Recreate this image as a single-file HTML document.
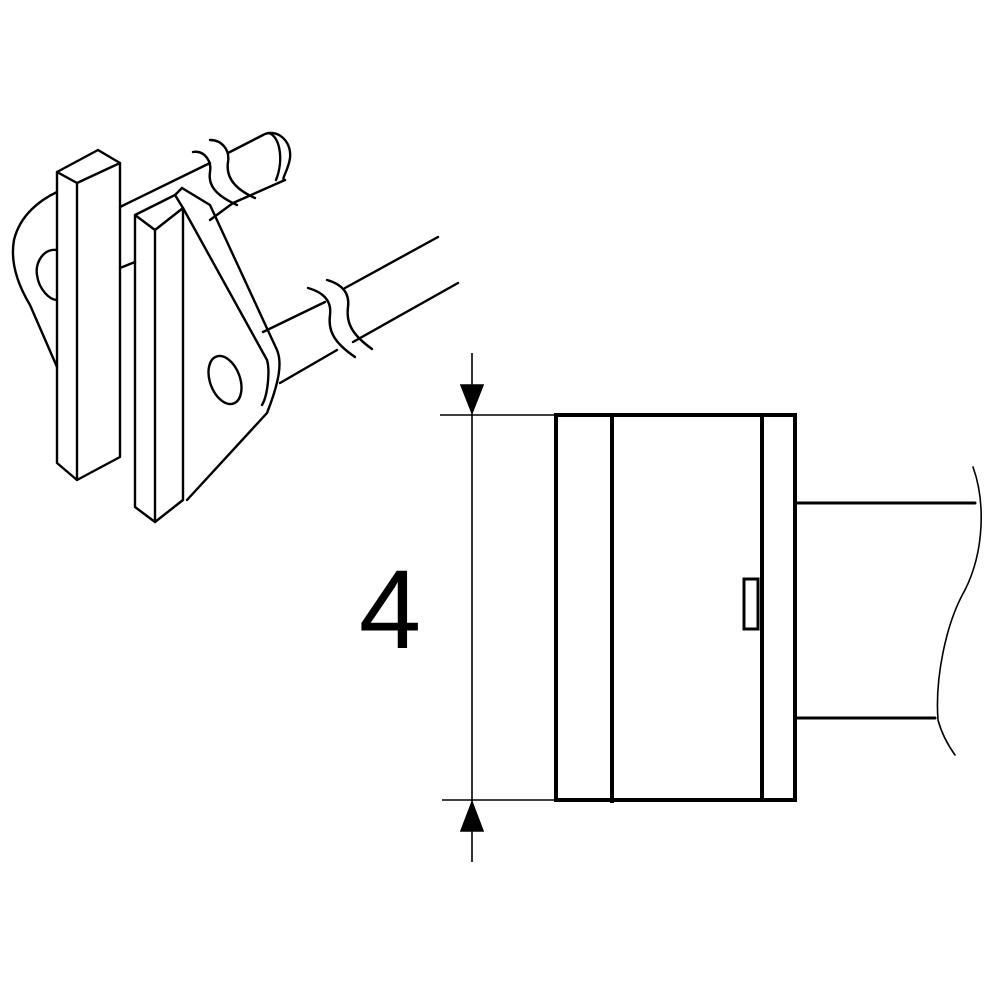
<!DOCTYPE html>
<html><head><meta charset="utf-8"><style>html,body{margin:0;padding:0;background:#fff}svg{display:block}</style></head><body>
<svg width="1000" height="1000" viewBox="0 0 1000 1000" xmlns="http://www.w3.org/2000/svg">
<g fill="none" stroke="#000" stroke-width="2.4" stroke-linejoin="round" stroke-linecap="round">
<!-- back rod -->
<path d="M120,207 L210,163"/>
<path d="M120,268 L135,262"/>
<path d="M193,152 C205,150 212,162 210,172 C208,185 215,195 237,205"/>
<path d="M210,140 C222,140 230,150 228,162 C226,175 232,188 255,198"/>
<path d="M228,153 L263,135"/>
<path d="M233,203 L285,180"/>
<path d="M210,220 L233,203"/>
<path d="M263,135 C276,128 292,140 290,158 C288,172 280,180 285,180"/>
<path d="M268,133 C280,135 284,160 276,180"/>
<!-- back plate -->
<path d="M57,192 C40,200 20,215 14,240 C10,262 18,285 30,305 L57,367"/>
<path d="M57,250 C44,248 35,262 37,275 C39,290 50,300 57,300"/>
<!-- front-left bar -->
<path d="M57,172 L98,150 L120,163 L77,183 Z"/>
<path d="M57,172 L57,463 L77,480 L120,457 L120,163"/>
<path d="M77,183 L77,480"/>
<!-- front plate -->
<path d="M182,188 L210,205 L277,350 C282,362 280,380 267,413 L187,500"/>
<path d="M183,208 L267,360 C270,370 268,395 262,405"/>
<!-- second bar -->
<path d="M135,215 L175,195 L183,208 L155,230 Z"/>
<path d="M175,195 L182,188"/>
<path d="M135,215 L135,507 L155,522 L183,500 L183,208"/>
<path d="M155,230 L155,522"/>
<ellipse cx="225" cy="380" rx="15" ry="25" transform="rotate(-20 225 380)"/>
<!-- front rod -->
<path d="M263,332 L325,302"/>
<path d="M345,288 L438,237"/>
<path d="M280,383 L337,350"/>
<path d="M353,342 L458,283"/>
<path d="M308,288 C322,292 332,300 330,315 C328,330 333,342 355,357"/>
<path d="M327,280 C341,284 350,292 348,307 C346,322 351,334 372,349"/>
<!-- right view -->
<path d="M795,503 L975,503" stroke-width="3"/>
<path d="M795,718 L935,718" stroke-width="3"/>
<path d="M973,467 C985,500 985,550 965,590 C945,625 935,680 938,720 C942,735 950,748 955,755" stroke-width="1.6"/>
</g>
<g fill="none" stroke="#000" stroke-width="4">
<rect x="556" y="415" width="239" height="385"/>
<path d="M612,415 L612,803 M762,415 L762,800"/>
<rect x="744" y="579" width="14" height="50" stroke-width="3"/>
</g>
<g stroke="#000" stroke-width="1.6" fill="#000">
<path d="M472,353 L472,862 M440,415 L556,415 M442,800 L556,800" fill="none"/>
<polygon points="472,413 461,385 483,385"/>
<polygon points="472,802 461,831 483,831"/>
</g>
<text x="390" y="648" font-family="Liberation Sans, sans-serif" font-size="112" text-anchor="middle" fill="#000">4</text>
</svg>
</body></html>
